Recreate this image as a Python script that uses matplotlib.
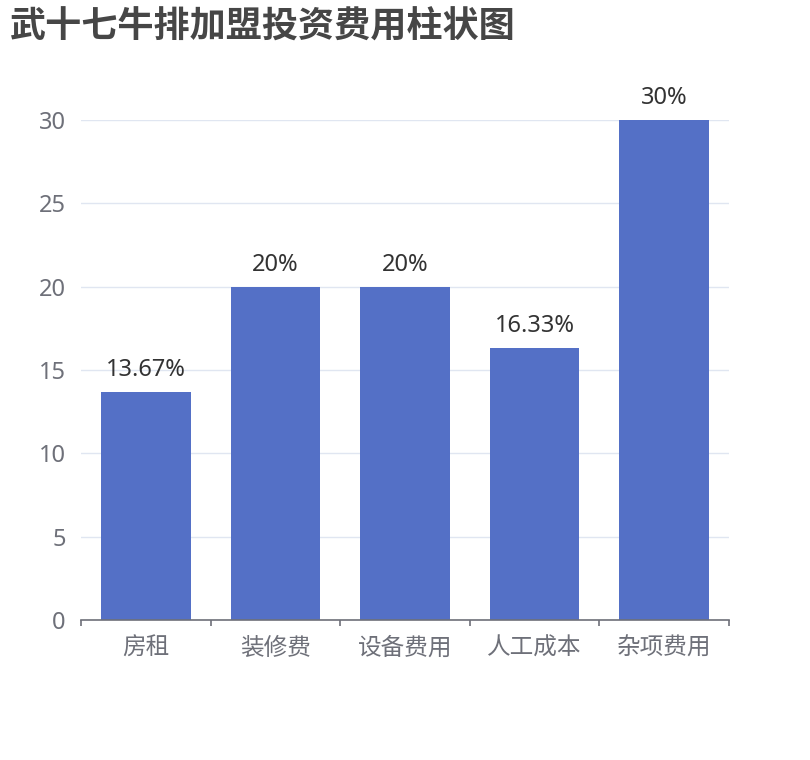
import matplotlib
matplotlib.use("Agg")
import matplotlib.pyplot as plt
from matplotlib.ticker import FixedLocator

plt.rcParams['font.family'] = ['Noto Sans', 'Noto Sans CJK SC', 'DejaVu Sans']

# 数据
categories = ["房租", "装修费", "设备费用", "人工成本", "杂项费用"]
values = [13.67, 20, 20, 16.33, 30]
labels = ["13.67%", "20%", "20%", "16.33%", "30%"]
y_ticks = [0, 5, 10, 15, 20, 25, 30]

bar_color = "#5470c6"
axis_color = "#6e7079"
grid_color = "#e0e6f1"

fig = plt.figure(figsize=(8.1, 7.6), dpi=100)
ax = fig.add_axes([0.1, 0.1842, 0.8, 0.6579])

x = list(range(len(categories)))
bars = ax.bar(x, values, width=0.69, color=bar_color, zorder=3)

for rect, lab in zip(bars, labels):
    ax.annotate(lab, (rect.get_x() + rect.get_width() / 2, rect.get_height()),
                xytext=(0, 7), textcoords="offset points",
                ha="center", va="bottom", fontsize=17, color="#333333")

ax.set_xlim(-0.5, len(categories) - 0.5)
ax.set_ylim(0, 30)
ax.set_yticks(y_ticks)
ax.set_xticks(x)
ax.set_xticklabels(categories)
ax.xaxis.set_minor_locator(FixedLocator([i - 0.5 for i in range(len(categories) + 1)]))

ax.grid(axis="y", color=grid_color, linewidth=1, zorder=0)
for s in ["top", "right", "left"]:
    ax.spines[s].set_visible(False)
ax.spines["bottom"].set_color(axis_color)
ax.spines["bottom"].set_linewidth(1.2)
ax.spines["bottom"].set_zorder(4)

ax.tick_params(axis="y", length=0, pad=11, labelsize=17, labelcolor=axis_color)
ax.tick_params(axis="x", which="major", length=0, pad=12, labelsize=17, labelcolor=axis_color)
ax.tick_params(axis="x", which="minor", length=4, width=1.2, color=axis_color)

fig.text(0.012, 0.963, "武十七牛排加盟投资费用柱状图", fontsize=26, fontweight="bold",
         color="#464646", ha="left", va="center")

fig.savefig("out.png", dpi=100, facecolor="white")
